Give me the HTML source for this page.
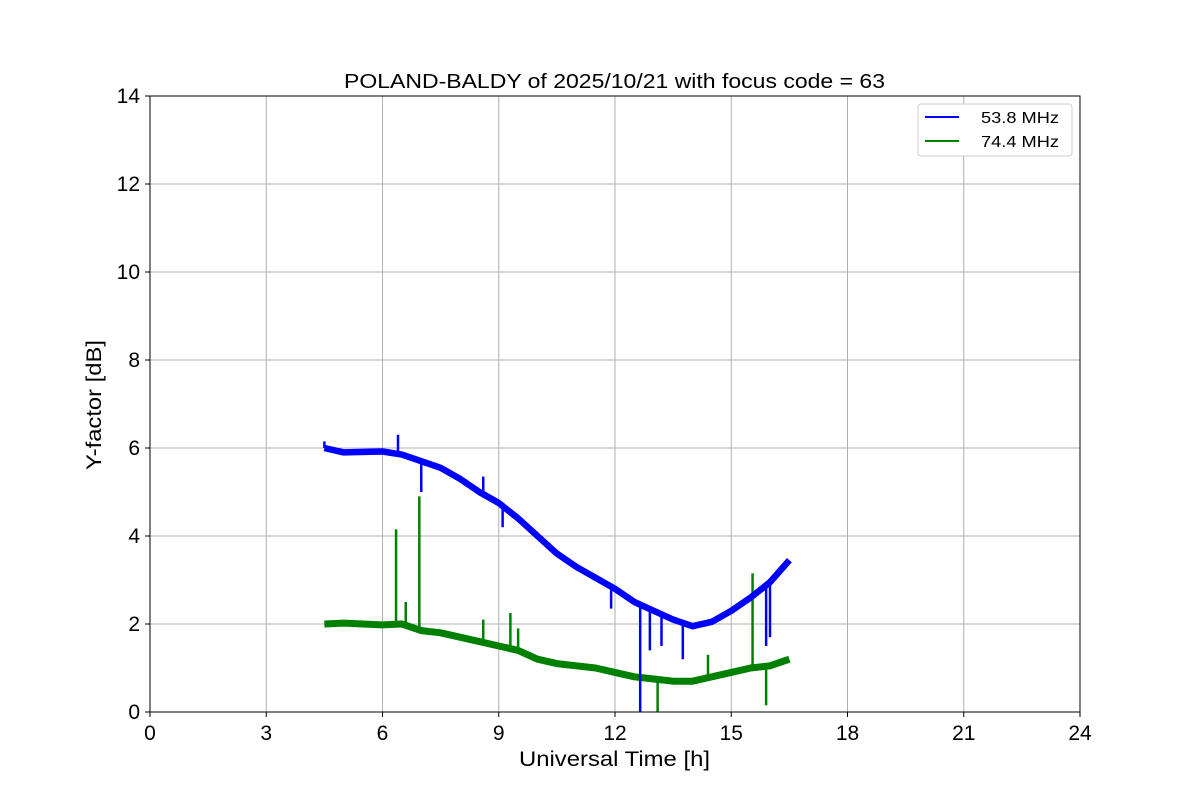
<!DOCTYPE html>
<html><head><meta charset="utf-8"><style>
html,body{margin:0;padding:0;background:#fff;}
svg{display:block;font-family:"Liberation Sans","DejaVu Sans",sans-serif;}
</style></head><body>
<svg id="chart" width="1200" height="800">
<text x="344" y="88" textLength="541" lengthAdjust="spacingAndGlyphs" font-size="20">POLAND-BALDY of 2025/10/21 with focus code = 63</text>
<g id="grid"></g><g id="series"></g><g id="axes"></g>
<text x="519" y="766" textLength="191" lengthAdjust="spacingAndGlyphs" font-size="21">Universal Time [h]</text>
<text transform="translate(101,470) rotate(-90)" textLength="130" lengthAdjust="spacingAndGlyphs" font-size="21">Y-factor [dB]</text>
<g>
<rect x="918" y="104" width="154" height="52" rx="3" fill="#fff" stroke="#ccc"/>
<g><line x1="925" y1="117" x2="959" y2="117" stroke="blue" stroke-width="2"/><text x="981" y="123" font-size="16" textLength="78" lengthAdjust="spacingAndGlyphs">53.8 MHz</text></g>
<g><line x1="925" y1="141" x2="959" y2="141" stroke="green" stroke-width="2"/><text x="981" y="147" font-size="16" textLength="78" lengthAdjust="spacingAndGlyphs">74.4 MHz</text></g>
</g>
</svg>
<script>
const xTicks=[0,3,6,9,12,15,18,21,24];
const yTicks=[0,2,4,6,8,10,12,14];
const blueT=[4.5,5,6,6.5,7,7.5,8,8.5,9,9.5,10,10.5,11,11.5,12,12.5,13,13.5,14,14.5,15,15.5,16,16.5];
const blueY=[6.0,5.9,5.92,5.85,5.7,5.55,5.3,5.0,4.75,4.4,4.0,3.6,3.3,3.05,2.8,2.5,2.3,2.1,1.95,2.05,2.3,2.6,2.95,3.45];
const blueSpikeT=[4.5,6.4,7.0,8.6,9.1,11.9,12.65,12.9,13.2,13.75,15.9,16.0];
const blueSpikeY=[6.15,6.3,5.0,5.35,4.2,2.35,0,1.4,1.5,1.2,1.5,1.7];
const greenT=[4.5,5,6,6.5,7,7.5,8,8.5,9,9.5,10,10.5,11,11.5,12,12.5,13,13.5,14,14.5,15,15.5,16,16.5];
const greenY=[2.0,2.02,1.98,2.0,1.85,1.8,1.7,1.6,1.5,1.4,1.2,1.1,1.05,1.0,0.9,0.8,0.75,0.7,0.7,0.8,0.9,1.0,1.05,1.2];
const greenSpikeT=[6.35,6.6,6.95,8.6,9.3,9.5,13.1,14.4,15.55,15.9];
const greenSpikeY=[4.15,2.5,4.9,2.1,2.25,1.9,0,1.3,3.15,0.15];
const X0=150,X1=1080,Y0=712,Y1=96;
const sx=t=>X0+(t/24)*(X1-X0);
const sy=v=>Y0-(v/14)*(Y0-Y1);
const NS="http://www.w3.org/2000/svg";
function mk(tag,attrs,parent){const e=document.createElementNS(NS,tag);for(const k in attrs)e.setAttribute(k,attrs[k]);parent.appendChild(e);return e;}
function interp(T,Y,t){if(t<=T[0])return Y[0];for(let i=1;i<T.length;i++){if(t<=T[i]){const f=(t-T[i-1])/(T[i]-T[i-1]);return Y[i-1]+f*(Y[i]-Y[i-1]);}}return Y[Y.length-1];}
const grid=document.getElementById('grid'),axes=document.getElementById('axes'),ser=document.getElementById('series');
xTicks.forEach(t=>{
 const g=mk('line',{x1:sx(t),x2:sx(t),y1:Y1,y2:Y0,stroke:'#b0b0b0','stroke-width':1},grid);
 
 
 mk('line',{x1:sx(t),x2:sx(t),y1:Y0,y2:Y0+5,stroke:'#000'},axes);
 const l=mk('text',{x:sx(t),y:Y0+28,'text-anchor':'middle','font-size':21},axes);l.textContent=t;
 
 
});
yTicks.forEach(v=>{
 const g=mk('line',{x1:X0,x2:X1,y1:sy(v),y2:sy(v),stroke:'#b0b0b0','stroke-width':1},grid);
 
 
 mk('line',{x1:X0-5,x2:X0,y1:sy(v),y2:sy(v),stroke:'#000'},axes);
 const l=mk('text',{x:X0-10,y:sy(v)+7,'text-anchor':'end','font-size':21},axes);l.textContent=v;
 
 
});
const frame=mk('rect',{x:X0,y:Y1,width:X1-X0,height:Y0-Y1,fill:'none',stroke:'#000','stroke-width':1},axes);


function draw(T,Y,ST,SY,color,w,name){
 const p=mk('polyline',{points:T.map((t,i)=>sx(t)+','+sy(Y[i])).join(' '),fill:'none',stroke:color,'stroke-width':w,'stroke-linejoin':'round','stroke-linecap':'butt'},ser);
 
 
 ST.forEach((t,i)=>{
  const s=mk('line',{x1:sx(t),x2:sx(t),y1:sy(interp(T,Y,t)),y2:sy(SY[i]),stroke:color,'stroke-width':2.5},ser);
  
  
 });
}
draw(greenT,greenY,greenSpikeT,greenSpikeY,'green',7,'series-74.4mhz');
draw(blueT,blueY,blueSpikeT,blueSpikeY,'blue',6.5,'series-53.8mhz');
</script>
</body></html>
